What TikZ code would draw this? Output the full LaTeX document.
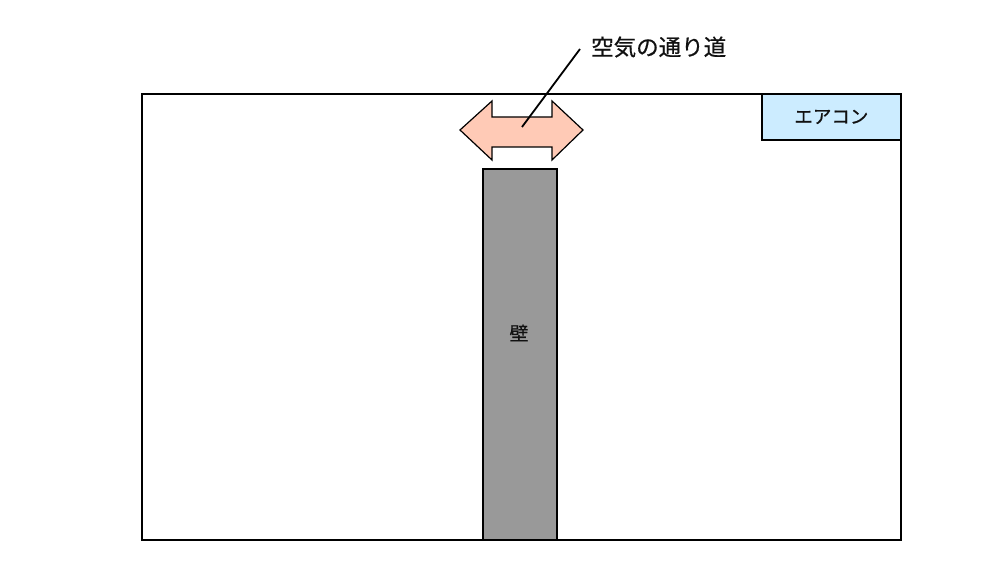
\documentclass[tikz,border=0pt]{standalone}
\usepackage{fontspec}
\newfontfamily\jp[FakeBold=0.6]{Noto Sans CJK JP}
\definecolor{wallgray}{HTML}{999999}
\definecolor{acblue}{HTML}{CCECFF}
\definecolor{arrowpink}{HTML}{FFCAB6}
\definecolor{txt}{HTML}{111111}
\begin{document}
\begin{tikzpicture}[x=1pt,y=-1pt,
  outline/.style={draw=black,line width=1.8pt},
  lbl/.style={text=txt,inner sep=0pt}]
\useasboundingbox (0,0) rectangle (999,585);
% room
\node[outline,fill=white,minimum width=759pt,minimum height=446pt,anchor=north west,inner sep=0pt] (room) at (141,93) {};
% wall
\node[outline,fill=wallgray,minimum width=74pt,minimum height=371pt,anchor=north west,inner sep=0pt] (wall) at (482,168) {};
\node[lbl,font=\jp\fontsize{19}{19}\selectfont] (walltext) at (519,333) {壁};
% air conditioner
\node[outline,fill=acblue,minimum width=139pt,minimum height=46pt,anchor=north west,inner sep=0pt,
  text=txt,font=\jp\fontsize{18.5}{18.5}\selectfont] (ac) at (761,93) {エアコン};
% double arrow
\draw[line width=1.2pt,line join=miter,fill=arrowpink] (460,130) -- (492,101) -- (492,117) -- (552,117) -- (552,101)
  -- (583,130) -- (552,160) -- (552,147) -- (492,147) -- (492,160) -- cycle;
\coordinate (arrowc) at (522,127);
% label
\node[lbl,anchor=west,font=\jp\fontsize{22.5}{22.5}\selectfont] (label) at (591,47) {空気の通り道};
\coordinate (leadend) at (580,49);
\draw[line width=1.8pt] (arrowc) -- (leadend);
\end{tikzpicture}
\end{document}
